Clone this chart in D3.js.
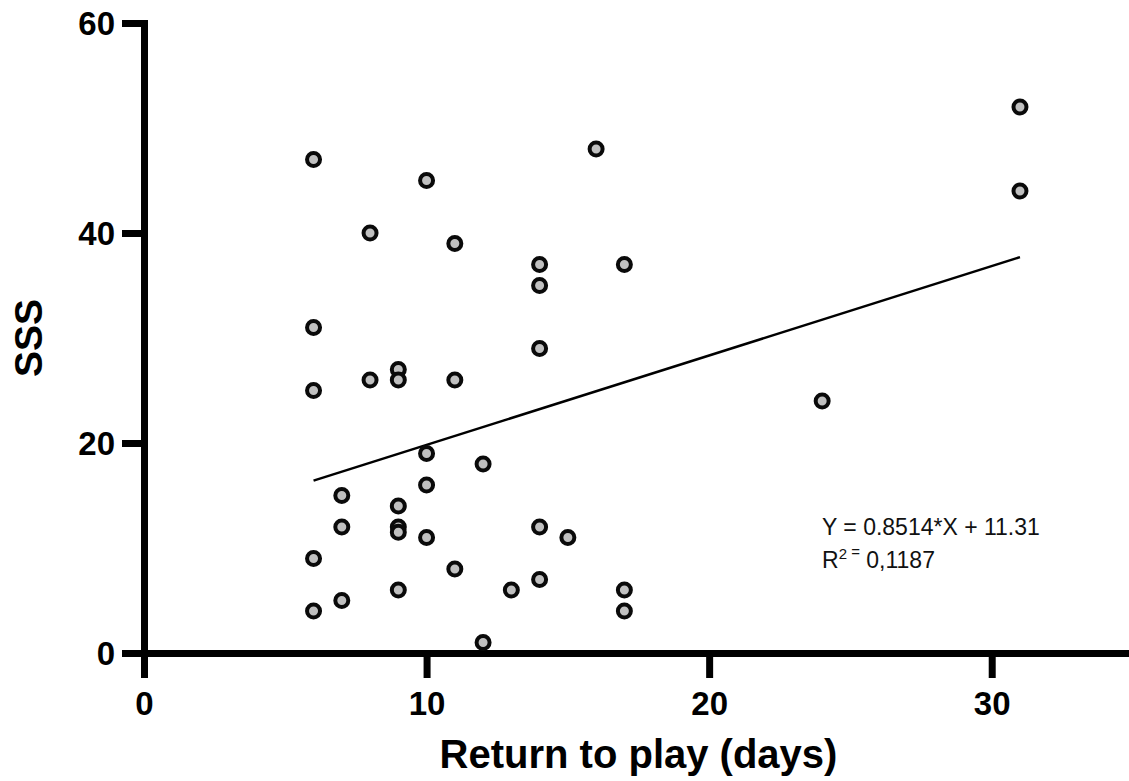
<!DOCTYPE html>
<html>
<head>
<meta charset="UTF-8">
<script src="https://d3js.org/d3.v7.min.js"></script>
<style>
  body { margin: 0; background: #fff; }
  svg { font-family: "Liberation Sans", Arial, Helvetica, sans-serif; }
</style>
</head>
<body>
<svg width="1129" height="781"></svg>
<script>
// days until return to play
const days = [6, 6, 6, 6, 6, 7, 7, 7, 8, 8, 9, 9, 9, 9, 9, 9, 10, 10, 10, 10,
  11, 11, 11, 12, 12, 13, 14, 14, 14, 14, 14, 15, 16, 17, 17, 17, 24, 31, 31];
// symptom severity score
const sss = [47, 31, 25, 9, 4, 15, 12, 5, 40, 26, 27, 26, 14, 12, 11.5, 6, 45, 19, 16, 11,
  39, 26, 8, 1, 18, 6, 37, 35, 29, 12, 7, 11, 48, 37, 6, 4, 24, 52, 44];

const xTicks = [0, 10, 20, 30];
const yTicks = [0, 20, 40, 60];

// linear fit
const slope = 0.8514;
const intercept = 11.31;
const fitText = "Y = 0.8514*X + 11.31";
const r2Text = "0,1187";

const svg = d3.select("svg");

const x = d3.scaleLinear().domain([0, 35]).range([144, 1133]);
const y = d3.scaleLinear().domain([0, 60]).range([653, 23]);

// x axis
const xAxis = svg.append("g")
  .attr("transform", `translate(0, ${y(0)})`)
  .call(d3.axisBottom(x).tickValues(xTicks).tickSize(25).tickSizeOuter(0).tickPadding(14));

// y axis
const yAxis = svg.append("g")
  .attr("transform", `translate(${x(0)}, 0)`)
  .call(d3.axisLeft(y).tickValues(yTicks).tickSize(22).tickSizeOuter(0).tickPadding(7));

[xAxis, yAxis].forEach(a => {
  a.select(".domain").attr("stroke", "#000").attr("stroke-width", 7).attr("stroke-linecap", "square");
  a.selectAll(".tick line").attr("stroke", "#000").attr("stroke-width", 7);
  a.selectAll(".tick text")
    .attr("fill", "#000")
    .attr("font-size", 33)
    .attr("font-weight", "bold")
    .attr("font-family", "Liberation Sans, Arial, sans-serif");
});
yAxis.selectAll(".tick text").attr("dy", "0.36em");

// axis titles
svg.append("text")
  .attr("x", (x(0) + x(35)) / 2)
  .attr("y", 768)
  .attr("text-anchor", "middle")
  .attr("font-size", 40)
  .attr("font-weight", "bold")
  .text("Return to play (days)");

svg.append("text")
  .attr("transform", `translate(42, ${(y(0) + y(60)) / 2}) rotate(-90)`)
  .attr("text-anchor", "middle")
  .attr("font-size", 39)
  .attr("font-weight", "bold")
  .text("SSS");

// regression line
const xMin = d3.min(days), xMax = d3.max(days);
svg.append("line")
  .attr("x1", x(xMin)).attr("y1", y(slope * xMin + intercept))
  .attr("x2", x(xMax)).attr("y2", y(slope * xMax + intercept))
  .attr("stroke", "#000")
  .attr("stroke-width", 2.5);

// points
svg.append("g")
  .selectAll("circle")
  .data(days.map((d, i) => ({ d: d, s: sss[i] })))
  .join("circle")
  .attr("cx", p => x(p.d))
  .attr("cy", p => y(p.s))
  .attr("r", 6.5)
  .attr("fill", "#c0c0c0")
  .attr("stroke", "#0a0a0a")
  .attr("stroke-width", 4);

// equation
const eq = svg.append("g").attr("font-size", 23).attr("fill", "#111");
eq.append("text").attr("x", 822).attr("y", 535).text(fitText);
const r2 = eq.append("text").attr("x", 822).attr("y", 568);
r2.append("tspan").text("R");
r2.append("tspan").attr("dy", -9).attr("font-size", 15).text("2");
r2.append("tspan").attr("dy", -2).attr("font-size", 15).text(" =");
r2.append("tspan").attr("dy", 11).text(" " + r2Text);
</script>
</body>
</html>
